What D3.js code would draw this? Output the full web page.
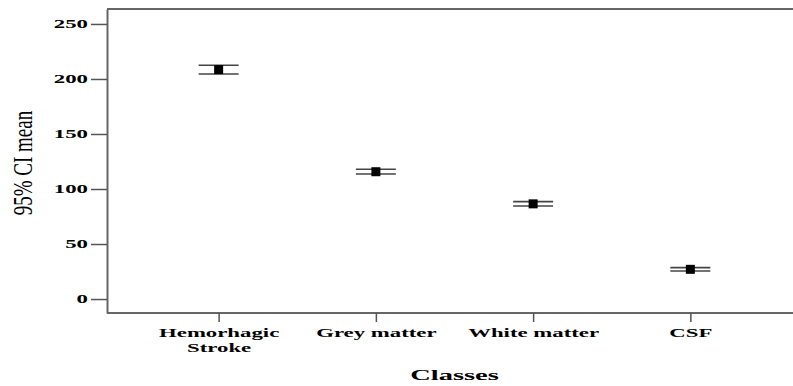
<html>
<head>
<script src="https://d3js.org/d3.v7.min.js"></script>
<style>
  body { margin: 0; background: #fff; }
  text { font-family: "Liberation Serif", "Times New Roman", serif; }
</style>
</head>
<body onload='init()'>
<svg width=793 height=386></svg>
<script>
// data
var categories = ["Hemorhagic Stroke", "Grey matter", "White matter", "CSF"];
var tickLabels = [["Hemorhagic", "Stroke"], ["Grey matter"], ["White matter"], ["CSF"]];
var means = [208.5, 115.7, 86.5, 27.0];
var lower = [204.5, 113.6, 84.5, 25.5];
var upper = [212.5, 117.9, 88.5, 28.5];
var yTicks = [0, 50, 100, 150, 200, 250];

function init() {
  var svg = d3.select("svg");
  var left = 107, right = 802, top = 9, bottom = 313;
  var sx = 1.9; // the text in the picture is stretched sideways

  var x = d3.scalePoint().domain(categories).range([left, right]).padding(0.71);
  var y = d3.scaleLinear().domain([-12.7, 263.6]).range([bottom, top]);

  // frame top
  svg.append("line")
    .attr("x1", left).attr("x2", 793).attr("y1", top).attr("y2", top)
    .attr("stroke", "#666").attr("stroke-width", 2);

  var gy = svg.append("g")
    .attr("transform", "translate(" + left + ",0)")
    .call(d3.axisLeft(y).tickValues(yTicks).tickSize(16).tickSizeOuter(0));
  gy.select(".domain").attr("stroke", "#666").attr("stroke-width", 2);
  gy.selectAll(".tick line").attr("stroke", "#555").attr("stroke-width", 1.5);
  gy.selectAll(".tick text")
    .attr("x", 0)
    .attr("transform", "translate(-19,0) scale(" + sx + ",1)")
    .attr("font-size", 12).attr("font-weight", "bold").attr("fill", "#000")
    .style("font-family", "Liberation Serif");

  var gx = svg.append("g")
    .attr("transform", "translate(0," + bottom + ")")
    .call(d3.axisBottom(x).tickSize(9).tickSizeOuter(0));
  gx.select(".domain").attr("stroke", "#666").attr("stroke-width", 2)
    .attr("d", "M" + left + ",0H" + right);
  gx.selectAll(".tick line").attr("stroke", "#555").attr("stroke-width", 1.5);
  gx.selectAll(".tick text").each(function(d, i) {
    var t = d3.select(this).text(null)
      .attr("y", 0).attr("dy", null)
      .attr("transform", "translate(0,24) scale(" + sx + ",1)")
      .attr("font-size", 12).attr("font-weight", "bold").attr("fill", "#000")
      .style("font-family", "Liberation Serif");
    tickLabels[i].forEach(function(s, j) {
      t.append("tspan").attr("x", 0).attr("y", j * 15).text(s);
    });
  });

  // error bars (caps + mean square)
  var bars = svg.append("g").selectAll("g")
    .data(categories)
    .enter().append("g");
  bars.append("line")
    .attr("x1", function(d) { return x(d) - 20; })
    .attr("x2", function(d) { return x(d) + 20; })
    .attr("y1", function(d, i) { return y(upper[i]); })
    .attr("y2", function(d, i) { return y(upper[i]); })
    .attr("stroke", "#444").attr("stroke-width", 1.6);
  bars.append("line")
    .attr("x1", function(d) { return x(d) - 20; })
    .attr("x2", function(d) { return x(d) + 20; })
    .attr("y1", function(d, i) { return y(lower[i]); })
    .attr("y2", function(d, i) { return y(lower[i]); })
    .attr("stroke", "#444").attr("stroke-width", 1.6);
  bars.append("rect")
    .attr("x", function(d) { return x(d) - 4.5; })
    .attr("y", function(d, i) { return y(means[i]) - 4.5; })
    .attr("width", 9).attr("height", 9)
    .attr("fill", "#000");

  // axis titles
  svg.append("text")
    .attr("transform", "translate(" + ((left + right) / 2) + ",380) scale(" + sx + ",1)")
    .attr("text-anchor", "middle")
    .attr("font-size", 15).attr("font-weight", "bold").attr("fill", "#000")
    .text("Classes");

  svg.append("text")
    .attr("transform", "translate(23," + ((top + bottom) / 2 + 2) + ") scale(1.4,1) rotate(-90)")
    .attr("text-anchor", "middle")
    .attr("dy", "0.35em")
    .attr("font-size", 19).attr("fill", "#000")
    .text("95% CI mean");
}
</script>
</body>
</html>
